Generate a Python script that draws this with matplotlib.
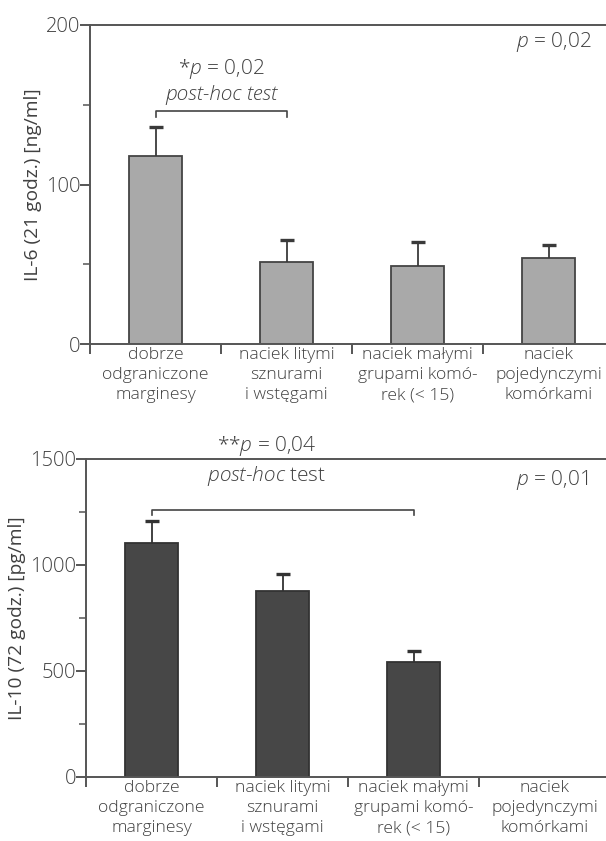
import numpy as np
import matplotlib as mpl
from matplotlib import pyplot as plt
from matplotlib.ticker import MultipleLocator

# data
categories = ['dobrze\nodgraniczone\nmarginesy',
              'naciek litymi\nsznurami\ni wstęgami',
              'naciek małymi\ngrupami komó-\nrek (< 15)',
              'naciek\npojedynczymi\nkomórkami']

il6_mean = [117.7, 51.5, 49.0, 53.8]
il6_err = [18.3, 13.8, 14.9, 8.0]

il10_mean = [1103.0, 877.0, 544.0]   # brak słupka dla ostatniej grupy
il10_err = [103.0, 79.0, 49.0]

mpl.rcParams['font.family'] = ['Open Sans', 'DejaVu Sans']
mpl.rcParams['font.weight'] = 'light'
mpl.rcParams['mathtext.fontset'] = 'custom'
mpl.rcParams['mathtext.rm'] = 'Open Sans:light'
mpl.rcParams['mathtext.it'] = 'Open Sans:italic:light'

textColor = '#404040'
axisColor = '#555555'
fsTick = 14.5
fsCat = 12.6
fsLab = 13.8
fsAnn = 15.0

f = plt.figure(figsize = (6.06, 8.41), dpi = 100)
ax1 = f.add_axes([90 / 606, (841 - 344) / 841, 524 / 606, 319 / 841])
ax2 = f.add_axes([86 / 606, (841 - 777) / 841, 524 / 606, 318 / 841])


def style_axes(ax, ymax, major, minor, ylabel):
    ax.set_xlim(-0.5, 3.5)
    ax.set_ylim(0, ymax)
    ax.spines['right'].set_visible(False)
    for s in ['left', 'top', 'bottom']:
        ax.spines[s].set_color(axisColor)
        ax.spines[s].set_linewidth(1.4)
    ax.yaxis.set_major_locator(MultipleLocator(major))
    ax.yaxis.set_minor_locator(MultipleLocator(minor))
    ax.set_xticks([-0.5, 0.5, 1.5, 2.5, 3.5])
    ax.set_xticklabels([])
    ax.set_xticks(range(4), minor = True)
    ax.set_xticklabels(categories, minor = True, fontsize = fsCat,
                       color = textColor, linespacing = 1.35)
    ax.tick_params(axis = 'x', which = 'major', length = 7, width = 1.4,
                   color = axisColor, direction = 'out')
    ax.tick_params(axis = 'x', which = 'minor', length = 0, pad = 2)
    ax.tick_params(axis = 'y', which = 'major', length = 7, width = 1.4,
                   color = axisColor, labelsize = fsTick, labelcolor = textColor,
                   pad = 0)
    ax.tick_params(axis = 'y', which = 'minor', length = 5, width = 1.1,
                   color = axisColor)
    ax.set_ylabel(ylabel, fontsize = fsLab, color = textColor, labelpad = 3)


def error_up(ax, xs, means, errs, color):
    tops = np.array(means) + np.array(errs)
    ax.vlines(xs, means, tops, color = color, lw = 1.3, zorder = 3)
    ax.plot(xs, tops, ls = 'none', marker = '_', ms = 10.5, mew = 2.4,
            color = color, zorder = 3)


x = np.arange(4)

# IL-6
ax1.bar(x, il6_mean, width = 0.41, color = '#a9a9a9', edgecolor = '#444444',
        linewidth = 1.3, zorder = 2)
error_up(ax1, x, il6_mean, il6_err, '#3a3a3a')
style_axes(ax1, 200, 100, 50, 'IL-6 (21 godz.) [ng/ml]')

ax1.plot([0, 0, 1, 1], [142.5, 146, 146, 142.5], color = '#444444', lw = 1.2)
ax1.text(0.5, 172.5, r'*$\it{p}$ = 0,02', ha = 'center', va = 'center',
         fontsize = fsAnn, color = textColor)
ax1.text(0.5, 156, 'post-hoc test', ha = 'center', va = 'center',
         fontsize = fsAnn, color = textColor, style = 'italic')
ax1.text(3.33, 189.5, r'$\it{p}$ = 0,02', ha = 'right', va = 'center',
         fontsize = fsAnn, color = textColor)

# IL-10
ax2.bar(x[:3], il10_mean, width = 0.41, color = '#474747', edgecolor = '#333333',
        linewidth = 1.3, zorder = 2)
error_up(ax2, x[:3], il10_mean, il10_err, '#333333')
style_axes(ax2, 1500, 500, 250, 'IL-10 (72 godz.) [pg/ml]')

ax2.plot([0, 0, 2, 2], [1235, 1260, 1260, 1235], color = '#444444', lw = 1.2)
ax2.text(0.88, 1559, r'**$\it{p}$ = 0,04', ha = 'center', va = 'center',
         fontsize = fsAnn, color = textColor, clip_on = False)
ax2.text(0.88, 1419, r'$\it{post}$-$\it{hoc}$ test', ha = 'center', va = 'center',
         fontsize = fsAnn, color = textColor)
ax2.text(3.33, 1403, r'$\it{p}$ = 0,01', ha = 'right', va = 'center',
         fontsize = fsAnn, color = textColor)

f.savefig('out.png', dpi = 100)
plt.close()
